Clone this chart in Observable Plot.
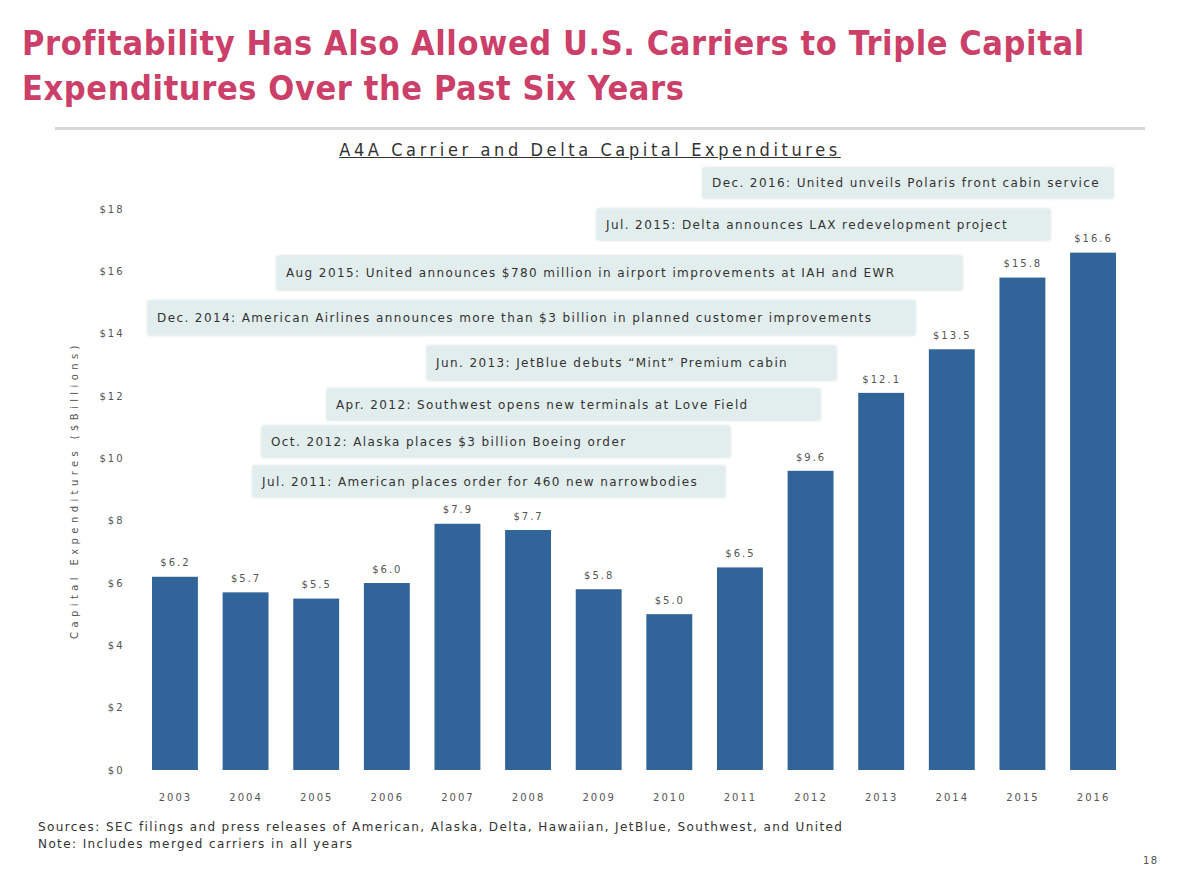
<!DOCTYPE html>
<html>
<head>
<meta charset="utf-8">
<script src="https://cdn.jsdelivr.net/npm/d3@7"></script>
<script src="https://cdn.jsdelivr.net/npm/@observablehq/plot@0.6"></script>
<style>
  html, body { margin: 0; padding: 0; background: #fff; }
  body { width: 1180px; height: 885px; position: relative; overflow: hidden; font-family: "DejaVu Sans", sans-serif; }
  #title { position: absolute; left: 22px; top: 21px; color: #cb3f69; font-family: "DejaVu Sans Condensed", "DejaVu Sans", sans-serif; font-weight: bold; font-size: 34px; line-height: 45px; letter-spacing: 0.6px; white-space: nowrap; }
  #rule { position: absolute; left: 55px; top: 127px; width: 1090px; height: 3px; background: #d6d8d8; }
  #subtitle { position: absolute; left: 0; width: 1180px; top: 139px; text-align: center; font-family: "DejaVu Sans Condensed", sans-serif; font-size: 18px; letter-spacing: 3.6px; color: #333; }
  #subtitle span { text-decoration: underline; }
  #chart { position: absolute; left: 0; top: 160px; }
  #chart svg text { letter-spacing: 2px; }
  .ann { position: absolute; background: #e2eded; box-shadow: 0 0 3px #c9d6d6; color: #333; font-size: 12px; letter-spacing: 1.4px; font-family: "DejaVu Sans", sans-serif; display: flex; align-items: center; padding-left: 9px; box-sizing: border-box; white-space: nowrap; overflow: hidden; }
  #foot { position: absolute; left: 38px; top: 819px; font-size: 12px; letter-spacing: 1.4px; color: #333; line-height: 17px; font-family: "DejaVu Sans", sans-serif; white-space: nowrap; }
  #page { position: absolute; left: 1143px; top: 855px; font-size: 10px; letter-spacing: 1.5px; color: #555; }
</style>
</head>
<body>
<div id="title">Profitability Has Also Allowed U.S. Carriers to Triple Capital<br>Expenditures Over the Past Six Years</div>
<div id="rule"></div>
<div id="subtitle"><span>A4A Carrier and Delta Capital Expenditures</span></div>
<div id="chart"></div>
<div id="anns"></div>
<div id="foot">Sources: SEC filings and press releases of American, Alaska, Delta, Hawaiian, JetBlue, Southwest, and United<br>Note: Includes merged carriers in all years</div>
<div id="page">18</div>
<script>
// ---- data ----
const years = ["2003","2004","2005","2006","2007","2008","2009","2010","2011","2012","2013","2014","2015","2016"];
const capex = [6.2, 5.7, 5.5, 6.0, 7.9, 7.7, 5.8, 5.0, 6.5, 9.6, 12.1, 13.5, 15.8, 16.6];
const yTicks = [0, 2, 4, 6, 8, 10, 12, 14, 16, 18];
const annotations = [
  "Dec. 2016: United unveils Polaris front cabin service",
  "Jul. 2015: Delta announces LAX redevelopment project",
  "Aug 2015: United announces $780 million in airport improvements at IAH and EWR",
  "Dec. 2014: American Airlines announces more than $3 billion in planned customer improvements",
  "Jun. 2013: JetBlue debuts \u201cMint\u201d Premium cabin",
  "Apr. 2012: Southwest opens new terminals at Love Field",
  "Oct. 2012: Alaska places $3 billion Boeing order",
  "Jul. 2011: American places order for 460 new narrowbodies"
];

// ---- layout (styling only) ----
const annBoxes = [
  {left: 703, top: 168, right: 1113, bottom: 198},
  {left: 597, top: 209, right: 1050, bottom: 240},
  {left: 277, top: 256, right: 962, bottom: 290},
  {left: 148, top: 301, right: 915, bottom: 335},
  {left: 427, top: 346, right: 836, bottom: 380},
  {left: 327, top: 389, right: 820, bottom: 420},
  {left: 262, top: 426, right: 730, bottom: 457},
  {left: 253, top: 466, right: 725, bottom: 497}
];

const table = years.map((y, i) => ({year: y, value: capex[i]}));

const chart = Plot.plot({
  width: 1180,
  height: 650,
  marginLeft: 140,
  marginRight: 52,
  marginTop: 49,
  marginBottom: 40,
  style: {fontFamily: "DejaVu Sans, sans-serif", fontSize: "10px", color: "#555", background: "transparent"},
  x: {domain: years, paddingInner: 0.35, paddingOuter: 0.17, round: false, label: null, tickSize: 0, tickPadding: 23},
  y: {domain: [0, 18], ticks: yTicks, tickFormat: d => "$" + d, label: "Capital Expenditures ($Billions)",
      labelAnchor: "center", labelArrow: "none", labelOffset: 70, tickSize: 0, tickPadding: 16},
  marks: [
    Plot.barY(table, {x: "year", y: "value", fill: "#31659a"}),
    Plot.text(table, {x: "year", y: "value", text: d => "$" + d.value.toFixed(1), dy: -14, fill: "#555", fontSize: 10})
  ]
});
document.getElementById("chart").appendChild(chart);
// wider tracking on the rotated axis label
chart.querySelectorAll("g[aria-label='y-axis label'] text").forEach(t => t.style.letterSpacing = "4.4px");

const annsDiv = document.getElementById("anns");
annotations.forEach((t, i) => {
  const b = annBoxes[i];
  const d = document.createElement("div");
  d.className = "ann";
  d.style.left = b.left + "px";
  d.style.top = b.top + "px";
  d.style.width = (b.right - b.left) + "px";
  d.style.height = (b.bottom - b.top) + "px";
  d.textContent = t;
  annsDiv.appendChild(d);
});
</script>
</body>
</html>
